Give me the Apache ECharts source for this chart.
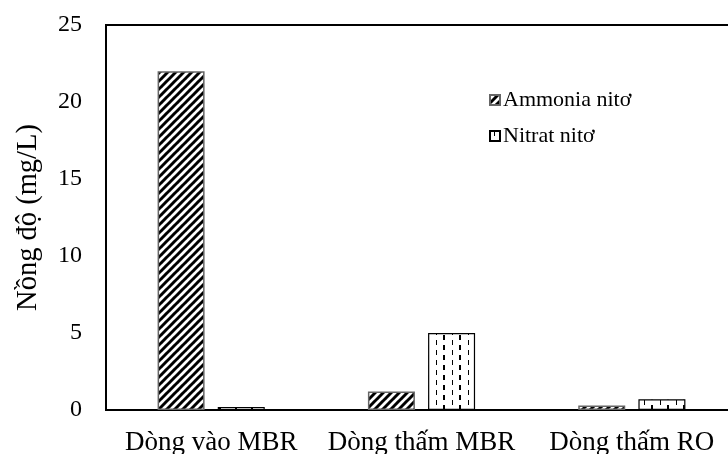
<!DOCTYPE html>
<html>
<head>
<meta charset="utf-8">
<script src="https://cdn.jsdelivr.net/npm/echarts@6/dist/echarts.min.js"></script>
<style>
  html, body { margin: 0; padding: 0; background: #fff; overflow: hidden; }
  #main { width: 740px; height: 454px; }
</style>
</head>
<body>
<div id="main"></div>
<script>
var categories = ['Dòng vào MBR', 'Dòng thấm MBR', 'Dòng thấm RO'];
var ammoniaValues = [22, 1.2, 0.3];
var nitratValues = [0.2, 5.0, 0.7];
var yTicks = { min: 0, max: 25, interval: 5 };

// diagonal stripe fill for ammonia
var makeStripes = function() {
  var c = document.createElement('canvas');
  c.width = 8; c.height = 8;
  var ctx = c.getContext('2d');
  ctx.fillStyle = '#fff';
  ctx.fillRect(0, 0, 8, 8);
  ctx.strokeStyle = '#000';
  ctx.lineWidth = 3;
  [-8, 0, 8, 16].forEach(function(k) {
    ctx.beginPath();
    ctx.moveTo(k - 1, 9);
    ctx.lineTo(k + 9, -1);
    ctx.stroke();
  });
  return c;
};

// dashed vertical lines for nitrat
var makeDashes = function() {
  var c = document.createElement('canvas');
  c.width = 16; c.height = 10;
  var ctx = c.getContext('2d');
  ctx.fillStyle = '#fff';
  ctx.fillRect(0, 0, 16, 10);
  ctx.fillStyle = '#000';
  ctx.fillRect(4, 0, 1, 5);
  ctx.fillRect(11, 5, 2, 5);
  return c;
};

var stripeFill = { image: makeStripes(), repeat: 'repeat' };
var dashFill = { image: makeDashes(), repeat: 'repeat' };

var chart = echarts.init(document.getElementById('main'));
chart.setOption({
  animation: false,
  textStyle: { fontFamily: 'Liberation Serif', color: '#000' },
  grid: {
    left: 106,
    right: 3,
    top: 25,
    bottom: 44,
    outerBoundsMode: 'none',
    show: true,
    borderColor: '#000',
    borderWidth: 2
  },
  legend: {
    orient: 'vertical',
    left: 484,
    top: 84,
    itemWidth: 10,
    itemHeight: 10,
    itemGap: 14,
    icon: 'rect',
    textStyle: { fontFamily: 'Liberation Serif', fontSize: 22, color: '#000', padding: [0, 0, 0, -2] },
    data: ['Ammonia nitơ', 'Nitrat nitơ']
  },
  xAxis: {
    type: 'category',
    data: categories,
    axisLine: { lineStyle: { color: '#000', width: 2 } },
    axisTick: { show: false },
    axisLabel: { interval: 0, fontFamily: 'Liberation Serif', fontSize: 27, color: '#000', margin: 19 }
  },
  yAxis: {
    type: 'value',
    min: yTicks.min,
    max: yTicks.max,
    interval: yTicks.interval,
    name: 'Nồng độ (mg/L)',
    nameLocation: 'middle',
    nameGap: 63,
    nameTextStyle: { fontFamily: 'Liberation Serif', fontSize: 28.5, color: '#000' },
    axisLine: { show: true, lineStyle: { color: '#000', width: 2 } },
    axisTick: { show: false },
    splitLine: { show: false },
    axisLabel: { fontFamily: 'Liberation Serif', fontSize: 24, color: '#000', margin: 24 }
  },
  series: [
    {
      name: 'Ammonia nitơ',
      type: 'bar',
      data: ammoniaValues,
      barWidth: 47,
      barGap: '28%',
      itemStyle: { color: stripeFill, borderColor: '#666', borderWidth: 1.5 }
    },
    {
      name: 'Nitrat nitơ',
      type: 'bar',
      data: nitratValues,
      barWidth: 47,
      barGap: '28%',
      itemStyle: { color: dashFill, borderColor: '#000', borderWidth: 1.2 }
    }
  ]
});
</script>
</body>
</html>
